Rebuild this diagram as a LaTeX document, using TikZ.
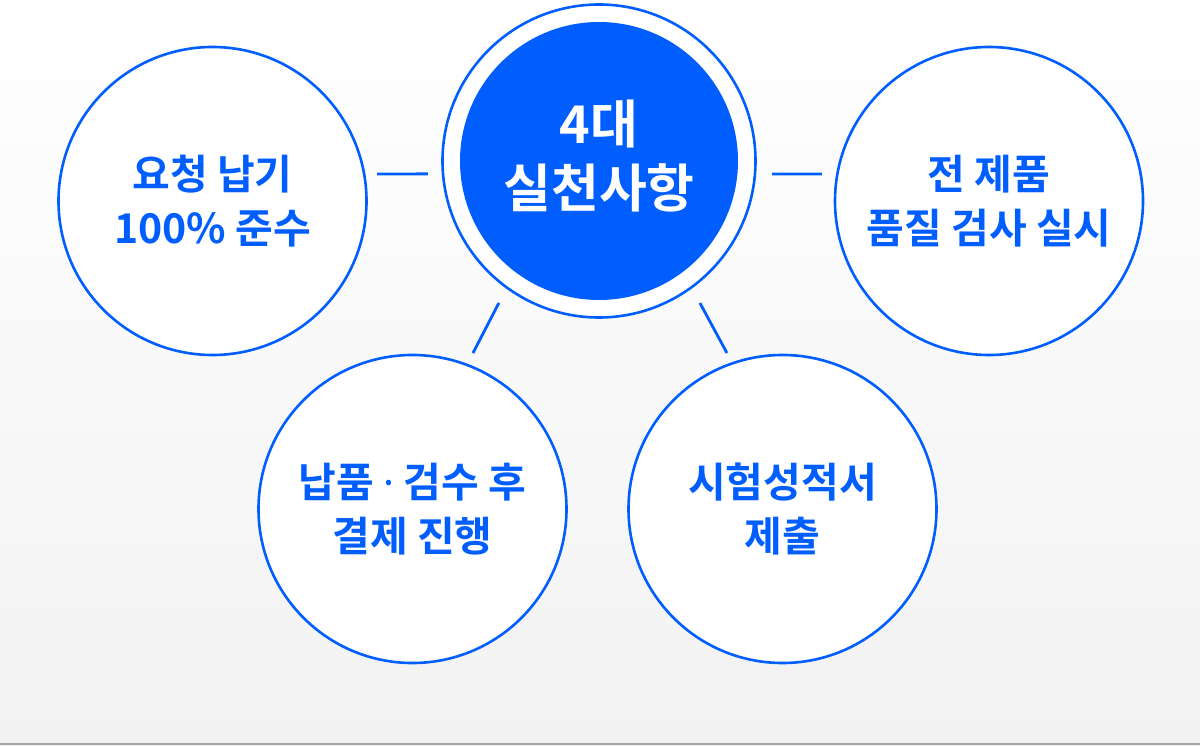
\documentclass[tikz,border=0pt]{standalone}
\usepackage{fontspec}
\setmainfont{Noto Sans CJK KR}[BoldFont={Noto Sans CJK KR Bold}]
\newfontfamily\dotfont{Noto Sans}
\definecolor{mainblue}{HTML}{005EFF}
\definecolor{bgbottom}{HTML}{F2F2F2}
\definecolor{rulegray}{HTML}{A6A6A6}

\tikzset{
  item/.style={circle, draw=mainblue, line width=2.6pt, fill=white,
    minimum size=308pt, inner sep=0pt, align=center, text=mainblue,
    font=\fontsize{41}{54.5}\selectfont\bfseries},
  link/.style={draw=mainblue, line width=2.8pt},
}

\begin{document}
\begin{tikzpicture}[x=1pt,y=1pt]
% Background
\shade[top color=white, bottom color=bgbottom] (0,0) rectangle (1200,745);
\useasboundingbox (0,0) rectangle (1200,745);
\draw[rulegray, line width=2pt] (0,1) -- (1200,1);

% Hub
\node[circle, draw=mainblue, line width=2.6pt, fill=white, minimum size=313pt] (hub) at (599,584) {};
\node[circle, fill=mainblue, minimum size=278pt, inner sep=0pt] (core) at (hub) {};
\node[text=white, align=center, font=\fontsize{52}{64}\selectfont\bfseries] (title) at ([yshift=5pt]core.center) {4대\\실천사항};

% Items
\node[item] (req) at (212.5,544) {요청 납기\\100\% 준수};
\node[item] (full) at (989,544) {전 제품\\품질 검사 실시};
\node[item] (pay) at (412.5,236) {납품 {\dotfont\bfseries ·} 검수 후\\결제 진행};
\node[item] (cert) at (782.5,236) {시험성적서\\제출};

% Connectors
\draw[link] ([shift={(9.3:166.7)}]req.center) -- ([shift={(184.3:171.5)}]hub.center);
\draw[link] ([shift={(-4.3:173.5)}]hub.center) -- ([shift={(170.8:169.2)}]full.center);
\draw[link] ([shift={(234.8:173.7)}]hub.center) -- ([shift={(68.8:167.3)}]pay.center);
\draw[link] ([shift={(305.4:174.3)}]hub.center) -- ([shift={(109.6:165.6)}]cert.center);

\end{tikzpicture}
\end{document}
